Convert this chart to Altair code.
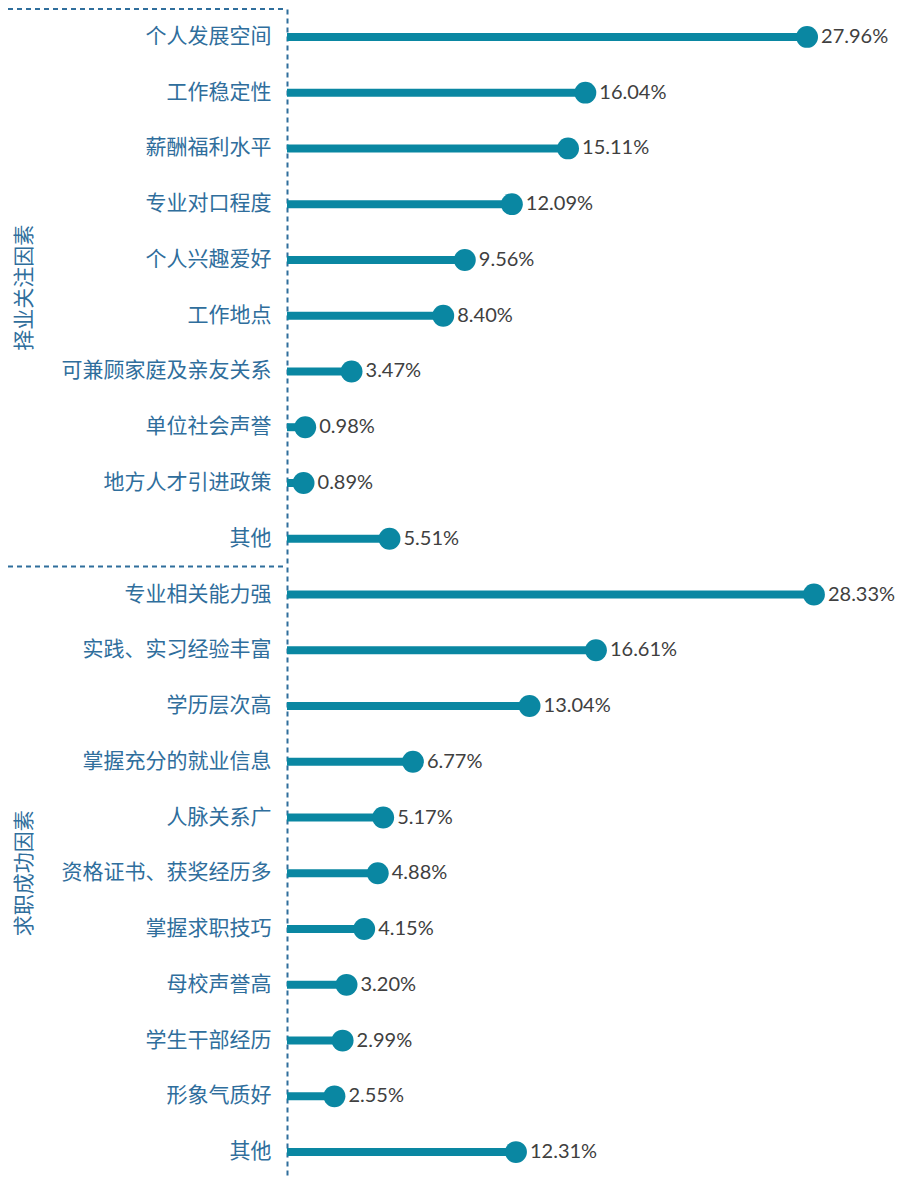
import altair as alt
import pandas as pd

group1_labels = ["个人发展空间", "工作稳定性", "薪酬福利水平", "专业对口程度", "个人兴趣爱好",
                 "工作地点", "可兼顾家庭及亲友关系", "单位社会声誉", "地方人才引进政策", "其他"]
group1_values = [27.96, 16.04, 15.11, 12.09, 9.56, 8.40, 3.47, 0.98, 0.89, 5.51]
group2_labels = ["专业相关能力强", "实践、实习经验丰富", "学历层次高", "掌握充分的就业信息", "人脉关系广",
                 "资格证书、获奖经历多", "掌握求职技巧", "母校声誉高", "学生干部经历", "形象气质好", "其他"]
group2_values = [28.33, 16.61, 13.04, 6.77, 5.17, 4.88, 4.15, 3.20, 2.99, 2.55, 12.31]
group_names = ["择业关注因素", "求职成功因素"]

labels = group1_labels + group2_labels
values = group1_values + group2_values
keys = [f"{i:02d}|{l}" for i, l in enumerate(labels)]
df = pd.DataFrame({"key": keys, "value": values})

W, H = 558, 1171
step = H / len(keys)

BLUE = "#2f6e9c"
TEAL = "#0a87a2"

y = alt.Y("key:N", sort=keys, title=None,
          scale=alt.Scale(paddingInner=0, paddingOuter=0),
          axis=alt.Axis(labelExpr="split(datum.value, '|')[1]", ticks=False,
                        labelPadding=16, labelFont="Noto Sans CJK SC", labelFontSize=21,
                        labelColor=BLUE, domainColor=BLUE, domainWidth=2,
                        domainDash=[5, 4], grid=False, labelLimit=300))
x = alt.X("value:Q", scale=alt.Scale(domain=[0, 30], nice=False), axis=None)

base = alt.Chart(df)
bars = base.mark_rule(color=TEAL, strokeWidth=8).encode(y=y, x=x, x2=alt.X2(datum=0))
dots = base.mark_circle(color=TEAL, size=480, opacity=1).encode(y=y, x=x)
text = base.transform_calculate(lbl="format(datum.value, '.2f') + '%'").mark_text(
    align="left", baseline="middle", dx=14, font="Lato", fontSize=20, color="#404040"
).encode(y=y, x=x, text="lbl:N")

deco = pd.DataFrame({"ypix": [0, step * 10]})
hlines = alt.Chart(deco).mark_rule(color=BLUE, strokeWidth=2, strokeDash=[5, 4]).encode(
    y=alt.Y("ypix:Q", scale=None), x=alt.value(-279), x2=alt.value(0))

gdf = pd.DataFrame({"name": group_names, "ypix": [step * 5, step * 15.5]})
gtext = alt.Chart(gdf).mark_text(angle=270, font="Noto Sans CJK SC", fontSize=21, color=BLUE,
                                 align="center", baseline="middle").encode(
    y=alt.Y("ypix:Q", scale=None), x=alt.value(-262), text="name:N")

chart = alt.layer(bars, dots, text, hlines, gtext).properties(
    width=W, height=H,
    autosize=alt.AutoSizeParams(type="none"),
    padding={"left": 279, "top": 1, "right": 51, "bottom": 0},
).configure_view(stroke=None)

chart.save("out.html", embed_options={"renderer": "svg", "actions": False})
